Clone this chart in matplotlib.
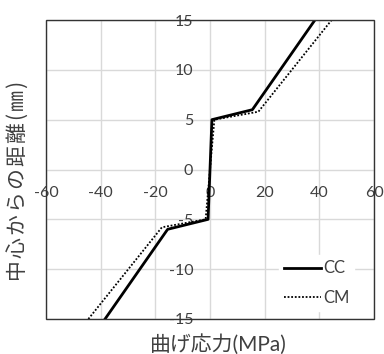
import matplotlib
matplotlib.use("Agg")
import matplotlib.pyplot as plt
from matplotlib.patches import Rectangle

plt.rcParams['font.family'] = ['Lato', 'Noto Sans CJK JP', 'DejaVu Sans']
plt.rcParams['axes.unicode_minus'] = False

cc_x = [-38.4, -15.5, -0.7, 0.7, 15.5, 38.4]
cc_y = [-15, -6, -5, 5, 6, 15]
cm_x = [-44.5, -17.6, -1.6, 1.6, 17.7, 44.5]
cm_y = [-15, -5.8, -5, 5, 5.8, 15]
xticks = [-60, -40, -20, 0, 20, 40, 60]
yticks = [-15, -10, -5, 0, 5, 10, 15]
xlabel = '曲げ応力(MPa)'
ylabel = '中心からの距離(㎜)'

fig = plt.figure(figsize=(3.84, 3.54), dpi=100)
ax = fig.add_axes([46/384, 1-319/354, 328/384, 299/354])

ax.plot(cc_x, cc_y, color='black', lw=2, label='CC', zorder=3)
ax.plot(cm_x, cm_y, color='black', lw=1.3, ls=(0, (1, 1)), label='CM', zorder=3)

ax.set_xlim(-60, 60)
ax.set_ylim(-15, 15)
ax.set_xticks(xticks)
ax.set_yticks(yticks)
ax.grid(True, color='#d9d9d9', lw=1)
ax.set_axisbelow(True)

for s in ['top', 'right']:
    ax.spines[s].set_visible(False)
ax.spines['left'].set_position(('data', 0))
ax.spines['bottom'].set_position(('data', 0))
ax.spines['left'].set_visible(False)
ax.spines['bottom'].set_visible(False)
ax.tick_params(length=0, labelsize=11.5, labelcolor='#404040')
ax.tick_params(axis='x', pad=12)
ax.tick_params(axis='y', pad=12)

ax.add_patch(Rectangle((0, 0), 1, 1, transform=ax.transAxes, fill=False,
                       edgecolor='#333333', lw=1, clip_on=False, zorder=5))

fig.text(218 / 384, 1 - 344 / 354, xlabel, ha='center', va='center',
         fontsize=15, color='#404040', family=['Lato', 'Noto Sans CJK JP', 'DejaVu Sans'])
fig.text(19 / 384, 1 - 181 / 354, '\u200a'.join(ylabel), ha='center', va='center', rotation=90,
         fontsize=15, color='#404040', family=['Noto Sans CJK JP', 'DejaVu Sans'])

leg = ax.legend(loc='lower right', bbox_to_anchor=(0.965, 0.0), frameon=True, fontsize=12,
                handlelength=2.2, handletextpad=0.1, labelspacing=0.8, borderpad=0.3)
leg.get_frame().set_edgecolor('white')
leg.get_frame().set_facecolor('white')
leg.get_frame().set_alpha(1)
for t in leg.get_texts():
    t.set_color('#404040')

fig.savefig('out.png', dpi=100)
